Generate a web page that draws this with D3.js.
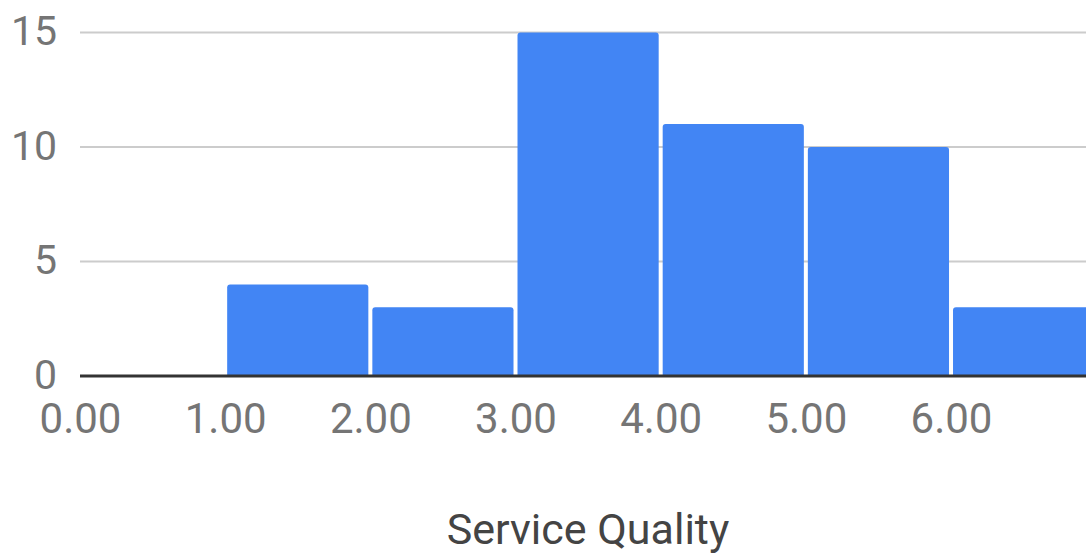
<!DOCTYPE html>
<html>
<head>
<meta charset="utf-8">
<script src="https://cdn.jsdelivr.net/npm/d3@7/dist/d3.min.js"></script>
<style>
  html, body { margin: 0; padding: 0; background: #fff; }
  svg { display: block; font-family: Roboto, "Noto Sans", sans-serif; }
</style>
</head>
<body>
<svg id="chart" width="1086" height="554"></svg>
<script>
// Histogram of service quality ratings (bucket size 1)
const binStarts = [1, 2, 3, 4, 5, 6];
const binEnds   = [2, 3, 4, 5, 6, 7];
const counts    = [4, 3, 15, 11, 10, 3];
const xTicks    = [0, 1, 2, 3, 4, 5, 6];
const yTicks    = [0, 5, 10, 15];
const xTitle    = "Service Quality";

const W = 1086, H = 554;
const svg = d3.select("#chart");

const x = d3.scaleLinear().domain([0, 7]).range([80, 80 + 7 * 145.17]);
const y = d3.scaleLinear().domain([0, 15]).range([376, 32.5]);

// horizontal gridlines
svg.append("g")
  .selectAll("line")
  .data(yTicks.filter(d => d !== 0))
  .join("line")
  .attr("x1", x(0)).attr("x2", W)
  .attr("y1", d => y(d)).attr("y2", d => y(d))
  .attr("stroke", "#cccccc")
  .attr("stroke-width", 2);

// bars with slightly rounded top corners
const r = 3, inset = 2;
function barPath(x0, x1, yTop, yBase) {
  return `M${x0},${yBase}V${yTop + r}Q${x0},${yTop} ${x0 + r},${yTop}` +
         `H${x1 - r}Q${x1},${yTop} ${x1},${yTop + r}V${yBase}Z`;
}
svg.append("g")
  .selectAll("path")
  .data(counts.map((c, i) => ({ s: binStarts[i], e: binEnds[i], c })))
  .join("path")
  .attr("d", d => barPath(x(d.s) + inset, x(d.e) - inset, y(d.c), y(0)))
  .attr("fill", "#4285f4");

// baseline
svg.append("line")
  .attr("x1", x(0)).attr("x2", W)
  .attr("y1", y(0)).attr("y2", y(0))
  .attr("stroke", "#333333")
  .attr("stroke-width", 3);

// y tick labels
const yAxis = d3.axisLeft(y).tickValues(yTicks).tickSize(0).tickPadding(0);
const gy = svg.append("g").attr("transform", "translate(57,0)").call(yAxis);
gy.select(".domain").remove();
gy.selectAll("text")
  .attr("font-family", "Roboto, sans-serif")
  .attr("font-size", 41)
  .attr("fill", "#757575")
  .attr("dy", "0.30em");

// x tick labels
const xAxis = d3.axisBottom(x).tickValues(xTicks).tickFormat(d3.format(".2f")).tickSize(0).tickPadding(0);
const gx = svg.append("g").attr("transform", "translate(0,433)").call(xAxis);
gx.select(".domain").remove();
gx.selectAll("text")
  .attr("font-family", "Roboto, sans-serif")
  .attr("font-size", 42)
  .attr("fill", "#757575")
  .attr("y", 0)
  .attr("dy", 0);

// axis title
svg.append("text")
  .attr("x", 588)
  .attr("y", 544)
  .attr("text-anchor", "middle")
  .attr("font-size", 43)
  .attr("fill", "#444444")
  .text(xTitle);
</script>
</body>
</html>
